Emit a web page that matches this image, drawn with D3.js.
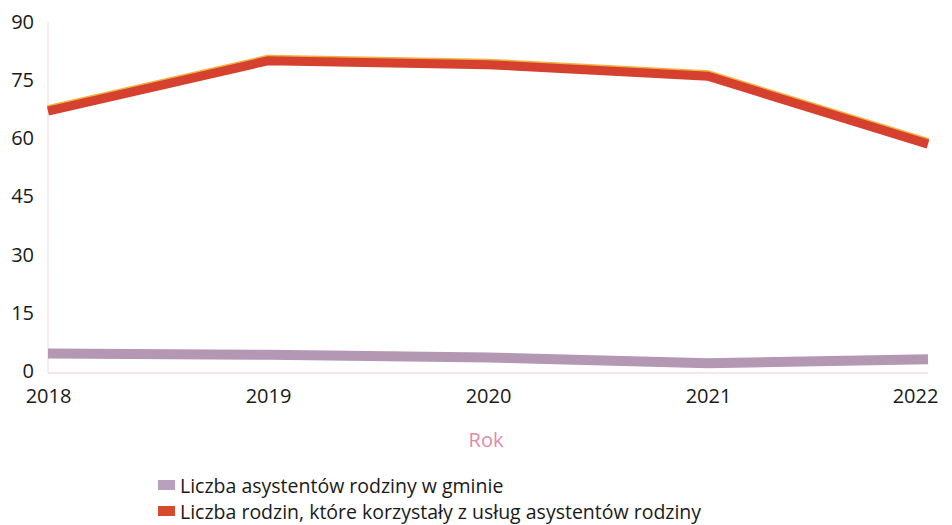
<!DOCTYPE html>
<html>
<head>
<meta charset="utf-8">
<script src="https://cdn.jsdelivr.net/npm/d3@7"></script>
<style>
  body { margin: 0; background: #fff; }
  text { font-family: "Open Sans", "Noto Sans", sans-serif; }
</style>
</head>
<body>
<div id="chart"></div>
<script>
const years = ["2018", "2019", "2020", "2021", "2022"];
const yTicks = [0, 15, 30, 45, 60, 75, 90];
const asystenci = [4.5, 4.2, 3.5, 2, 3];
const rodziny = [67, 80, 79, 76, 58.5];
const seriesNames = [
  "Liczba asystentów rodziny w gminie",
  "Liczba rodzin, które korzystały z usług asystentów rodziny"
];

const W = 952, H = 525;
const margin = { top: 22, right: 24, bottom: 154, left: 48 };

const svg = d3.select("#chart").append("svg")
  .attr("width", W)
  .attr("height", H);

const x = d3.scalePoint()
  .domain(years)
  .range([margin.left, W - margin.right]);

const y = d3.scaleLinear()
  .domain([0, 90])
  .range([H - margin.bottom, margin.top]);

// axes lines (faint pink)
svg.append("line")
  .attr("x1", margin.left).attr("x2", margin.left)
  .attr("y1", y(90)).attr("y2", y(0) + 2)
  .attr("stroke", "#f4d4dc").attr("stroke-width", 1);
svg.append("line")
  .attr("x1", margin.left).attr("x2", W - margin.right)
  .attr("y1", y(0) + 2).attr("y2", y(0) + 2)
  .attr("stroke", "#f6dde3").attr("stroke-width", 1.5);

// y tick labels
const yAxis = svg.append("g")
  .attr("transform", `translate(${margin.left},0)`)
  .call(d3.axisLeft(y).tickValues(yTicks).tickSize(0).tickPadding(14));
yAxis.select(".domain").remove();
yAxis.selectAll("text")
  .style("font-size", "20px")
  .style("fill", "#1a1a1a");

// x tick labels
const xAxis = svg.append("g")
  .attr("transform", `translate(0,${y(0)})`)
  .call(d3.axisBottom(x).tickSize(0).tickPadding(18));
xAxis.select(".domain").remove();
xAxis.selectAll("text")
  .style("font-size", "20px")
  .style("fill", "#1a1a1a")
  .attr("dx", (d, i) => i === years.length - 1 ? -13 : 0);

// axis title
svg.append("text")
  .attr("x", 486)
  .attr("y", 447)
  .attr("text-anchor", "middle")
  .style("font-size", "20px")
  .style("fill", "#e58aa3")
  .text("Rok");

const line = d3.line()
  .x((d, i) => x(years[i]))
  .y(d => y(d));

// purple series
svg.append("path")
  .datum(asystenci)
  .attr("fill", "none")
  .attr("stroke", "#b497b3")
  .attr("stroke-width", 10)
  .attr("d", line);

// red series with a warm edge
svg.append("path")
  .datum(rodziny)
  .attr("fill", "none")
  .attr("stroke", "#f2b13c")
  .attr("stroke-width", 9)
  .attr("transform", "translate(0,-1.5)")
  .attr("d", line);
svg.append("path")
  .datum(rodziny)
  .attr("fill", "none")
  .attr("stroke", "#d6402f")
  .attr("stroke-width", 9)
  .attr("d", line);

// legend
const legendColors = ["#b9a0bf", "#d84a2c"];
const legend = svg.append("g").attr("transform", "translate(158,486)");
seriesNames.forEach((name, i) => {
  const g = legend.append("g").attr("transform", `translate(0,${i * 26})`);
  g.append("rect")
    .attr("x", 0).attr("y", -6)
    .attr("width", 17).attr("height", 10)
    .attr("fill", legendColors[i]);
  g.append("text")
    .attr("x", 22).attr("y", 0)
    .attr("dy", "0.35em")
    .style("font-size", "19.5px")
    .style("fill", "#1a1a1a")
    .text(name);
});
</script>
</body>
</html>
